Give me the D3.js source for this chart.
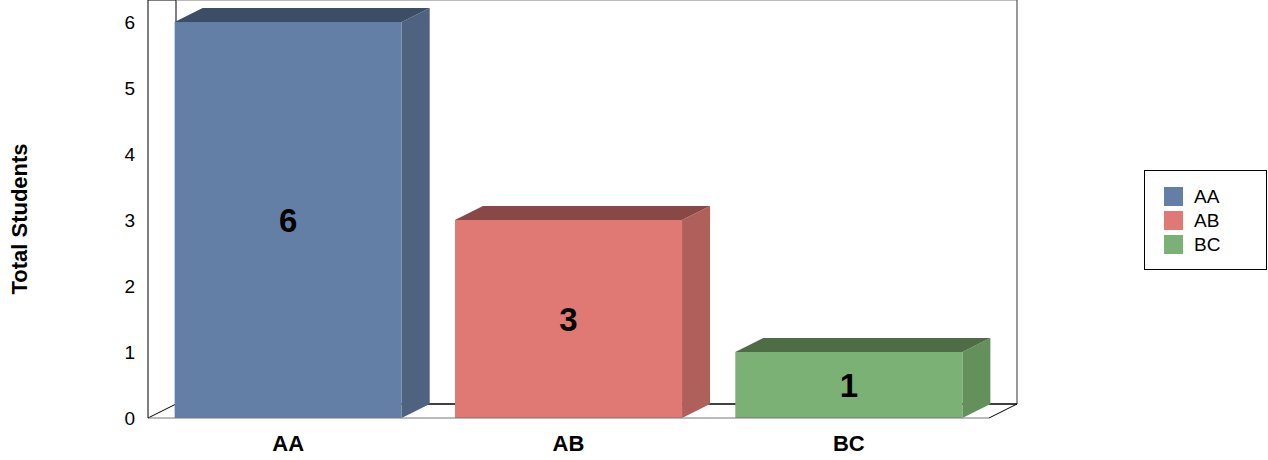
<!DOCTYPE html>
<html>
<head>
<meta charset="utf-8">
<script src="https://cdn.jsdelivr.net/npm/d3@7"></script>
<style>
  body { margin: 0; background: #fff; }
  svg { font-family: "Liberation Sans", Arial, sans-serif; }
</style>
</head>
<body>
<script>
// chart data
const categories = ["AA", "AB", "BC"];
const totals = [6, 3, 1];
const yTicks = [0, 1, 2, 3, 4, 5, 6];
const frontColors = ["#647fa6", "#e07873", "#7bb174"];
const sideColors = ["#4f6381", "#b0605b", "#64905c"];
const topColors = ["#3c4d66", "#884845", "#4e6d47"];

const W = 1268, H = 460;
const depthX = 28, depthY = -14;

const svg = d3.select("body").append("svg")
    .attr("width", W)
    .attr("height", H);

var x = d3.scaleBand()
    .domain(categories)
    .range([148, 989])
    .padding(0);

var y = d3.scaleLinear()
    .domain([0, 6])
    .range([418, 22]);

// back wall + floor lines
var x0 = x.range()[0], x1 = x.range()[1];
var bot = y(0), top = y(6);

function line(ax, ay, bx, by, col, sw) {
    svg.append("line")
        .attr("x1", ax).attr("y1", ay)
        .attr("x2", bx).attr("y2", by)
        .attr("stroke", col).attr("stroke-width", sw);
}

line(x0 + depthX, bot + depthY, x0 + depthX, top + depthY, "#000", 1);   // back wall left
line(x0 + depthX, top + depthY, x1 + depthX, top + depthY, "#777", 1);   // back wall top
line(x1 + depthX, top + depthY, x1 + depthX, bot + depthY, "#555", 1.2); // back wall right
line(x0 + depthX, bot + depthY, x1 + depthX, bot + depthY, "#000", 1.6); // floor back edge
line(x0, bot, x0 + depthX, bot + depthY, "#000", 1);                     // floor left
line(x1, bot, x1 + depthX, bot + depthY, "#000", 1);                     // floor right
line(x0, top, x0 + depthX, top + depthY, "#000", 1);                     // top-left diagonal

// bars
var barW = x.bandwidth() * 0.81;
var bars = svg.append("g").selectAll("g")
    .data(categories)
    .enter().append("g");

bars.each(function(c, i) {
    var g = d3.select(this);
    var bx = x(c) + (x.bandwidth() - barW) / 2;
    var by = y(totals[i]);
    g.append("polygon") // side
        .attr("points", [[bx + barW, bot], [bx + barW + depthX, bot + depthY],
            [bx + barW + depthX, by + depthY], [bx + barW, by]].join(" "))
        .attr("fill", sideColors[i]);
    g.append("polygon") // top
        .attr("points", [[bx, by], [bx + depthX, by + depthY],
            [bx + barW + depthX, by + depthY], [bx + barW, by]].join(" "))
        .attr("fill", topColors[i]);
    g.append("rect")
        .attr("x", bx).attr("y", by)
        .attr("width", barW).attr("height", bot - by)
        .attr("fill", frontColors[i]);
    g.append("text")
        .attr("x", bx + barW / 2)
        .attr("y", (by + bot) / 2)
        .attr("dy", "0.36em")
        .attr("text-anchor", "middle")
        .attr("font-size", 33)
        .attr("font-weight", "bold")
        .text(totals[i]);
});

// front floor line and left axis
line(x0, bot, x1, bot, "#777", 1);
line(x0, bot, x0, top, "#000", 1);

// y tick labels
var yAxis = d3.axisLeft(y).tickValues(yTicks).tickFormat(d3.format("d"))
    .tickSize(0).tickPadding(13);
var yg = svg.append("g")
    .attr("transform", "translate(" + x0 + ",0)")
    .call(yAxis);
yg.select(".domain").remove();
yg.selectAll("text")
    .attr("font-size", 19)
    .attr("font-family", "Liberation Sans, Arial, sans-serif")
    .attr("fill", "#000");

// x labels
var xAxis = d3.axisBottom(x).tickSize(0).tickPadding(17);
var xg = svg.append("g")
    .attr("transform", "translate(0," + bot + ")")
    .call(xAxis);
xg.select(".domain").remove();
xg.selectAll("text")
    .attr("font-size", 22)
    .attr("font-weight", "bold")
    .attr("font-family", "Liberation Sans, Arial, sans-serif")
    .attr("fill", "#000");

// y title
svg.append("text")
    .attr("transform", "translate(27,219) rotate(-90)")
    .attr("text-anchor", "middle")
    .attr("font-size", 22)
    .attr("font-weight", "bold")
    .text("Total Students");

// legend
var legend = svg.append("g").attr("transform", "translate(1144,170)");
legend.append("rect")
    .attr("x", 0.5).attr("y", 0.5)
    .attr("width", 122).attr("height", 99)
    .attr("fill", "#fff").attr("stroke", "#000");
categories.forEach(function(c, i) {
    legend.append("rect")
        .attr("x", 20).attr("y", 17 + i * 24)
        .attr("width", 19).attr("height", 19)
        .attr("fill", frontColors[i]);
    legend.append("text")
        .attr("x", 50).attr("y", 26.5 + i * 24)
        .attr("dy", "0.36em")
        .attr("font-size", 19)
        .text(c);
});
</script>
</body>
</html>
